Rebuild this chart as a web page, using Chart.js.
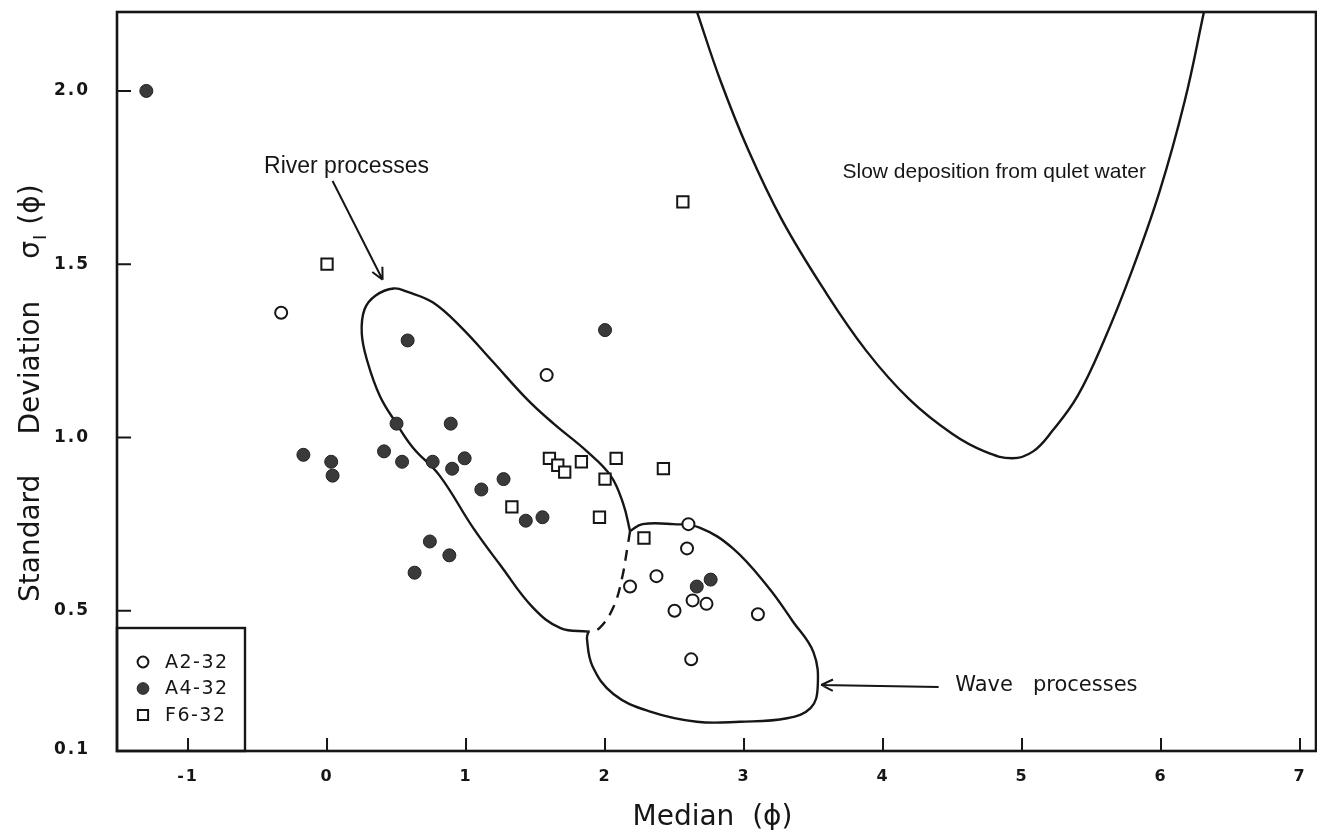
<!DOCTYPE html>
<html>
<head>
<meta charset="utf-8">
<script src="https://cdn.jsdelivr.net/npm/chart.js@4.4.1/dist/chart.umd.min.js"></script>
<style>
  body { margin: 0; background: #fff; }
  canvas { display: block; }
</style>
</head>
<body>
<canvas id="mychart" width="1317" height="830"></canvas>
<script>
// sample series (median phi, standard deviation phi)
const a2x = [-0.33, 1.58, 2.60, 2.59, 2.37, 2.18, 2.63, 2.73, 2.50, 3.10, 2.62];
const a2y = [1.36, 1.18, 0.75, 0.68, 0.60, 0.57, 0.53, 0.52, 0.50, 0.49, 0.36];

const a4x = [-1.30, 0.58, 2.00, 0.50, 0.89, -0.17, 0.03, 0.04, 0.41, 0.54, 0.76,
             0.90, 0.99, 1.11, 1.27, 1.43, 1.55, 0.74, 0.88, 0.63, 2.66, 2.76];
const a4y = [2.00, 1.28, 1.31, 1.04, 1.04, 0.95, 0.93, 0.89, 0.96, 0.93, 0.93,
             0.91, 0.94, 0.85, 0.88, 0.76, 0.77, 0.70, 0.66, 0.61, 0.57, 0.59];

const f6x = [0.00, 2.56, 1.60, 1.66, 1.71, 1.83, 2.08, 2.00, 2.42, 1.33, 1.96, 2.28];
const f6y = [1.50, 1.68, 0.94, 0.92, 0.90, 0.93, 0.94, 0.88, 0.91, 0.80, 0.77, 0.71];

// field boundaries
const riverX = [1.88, 1.68, 1.48, 1.25, 1.05, 0.81, 0.62, 0.50, 0.38, 0.29, 0.25, 0.27, 0.35, 0.48,
                0.58, 0.76, 0.96, 1.19, 1.44, 1.63, 1.87, 2.04, 2.13, 2.18];
const riverY = [0.44, 0.45, 0.51, 0.63, 0.74, 0.89, 0.97, 1.04, 1.12, 1.22, 1.30, 1.37, 1.41, 1.43,
                1.42, 1.39, 1.32, 1.22, 1.11, 1.04, 0.96, 0.89, 0.81, 0.73];

const splitX = [2.18, 2.16, 2.12, 2.06, 1.96, 1.88];
const splitY = [0.73, 0.68, 0.59, 0.51, 0.45, 0.44];

const waveX = [2.18, 2.27, 2.49, 2.68, 2.92, 3.17, 3.35, 3.50, 3.53, 3.48, 3.31, 2.97, 2.66,
               2.32, 2.06, 1.91, 1.87, 1.88];
const waveY = [0.73, 0.75, 0.75, 0.74, 0.68, 0.57, 0.47, 0.38, 0.28, 0.22, 0.19, 0.18, 0.18,
               0.21, 0.26, 0.34, 0.42, 0.44];

const quietX = [2.66, 2.83, 3.03, 3.27, 3.57, 3.88, 4.19, 4.50, 4.73, 4.93,
                5.08, 5.22, 5.40, 5.59, 5.79, 5.99, 6.17, 6.31];
const quietY = [2.23, 2.03, 1.83, 1.63, 1.43, 1.25, 1.11, 1.01, 0.96, 0.94,
                0.96, 1.02, 1.12, 1.28, 1.48, 1.71, 1.97, 2.23];

const seriesNames = ['A2-32', 'A4-32', 'F6-32'];
const xTicks = [-1, 0, 1, 2, 3, 4, 5, 6, 7];
const yTicks = [0.1, 0.5, 1.0, 1.5, 2.0];

const ink = '#161616';
const zip = (xs, ys) => xs.map((v, i) => ({ x: v, y: ys[i] }));

const outline = (xs, ys, dash) => ({
    data: zip(xs, ys),
    showLine: true,
    tension: 0.4,
    borderColor: ink,
    borderWidth: 2.4,
    borderDash: dash || [],
    pointRadius: 0,
    fill: false
});

// text and arrows laid over the plot
const notes = [
    { text: 'River processes', x: 0.14, y: 1.763, align: 'center', font: '23px "Liberation Sans", sans-serif' },
    { text: 'Slow deposition from qulet water', x: 4.80, y: 1.749, align: 'center', font: '21px "Liberation Sans", sans-serif' },
    { text: 'Wave   processes', x: 4.52, y: 0.269, align: 'left', font: '21px "DejaVu Sans", sans-serif' }
];
const arrows = [
    { from: [0.04, 1.74], to: [0.40, 1.455] },
    { from: [4.40, 0.28], to: [3.555, 0.286] }
];

const decor = {
    id: 'decor',
    beforeDraw(chart) {
        chart.ctx.letterSpacing = '2px';
    },
    afterDraw(chart) {
        const { ctx, chartArea: a, scales: { x, y } } = chart;
        ctx.save();
        ctx.letterSpacing = '0px';
        ctx.strokeStyle = ink;
        ctx.fillStyle = ink;
        ctx.lineCap = 'butt';

        // frame
        ctx.lineWidth = 2.6;
        ctx.strokeRect(a.left, a.top, a.right - a.left, a.bottom - a.top);

        // tick marks pointing into the plot
        ctx.lineWidth = 2;
        ctx.beginPath();
        xTicks.forEach(t => {
            const px = x.getPixelForValue(t);
            ctx.moveTo(px, a.bottom);
            ctx.lineTo(px, a.bottom - 13);
        });
        yTicks.slice(1).forEach(t => {
            const py = y.getPixelForValue(t);
            ctx.moveTo(a.left, py);
            ctx.lineTo(a.left + 14, py);
        });
        ctx.stroke();

        // arrows
        arrows.forEach(ar => {
            const x1 = x.getPixelForValue(ar.from[0]), y1 = y.getPixelForValue(ar.from[1]);
            const x2 = x.getPixelForValue(ar.to[0]), y2 = y.getPixelForValue(ar.to[1]);
            const ang = Math.atan2(y2 - y1, x2 - x1);
            ctx.beginPath();
            ctx.moveTo(x1, y1);
            ctx.lineTo(x2, y2);
            [-0.45, 0.45].forEach(d => {
                ctx.moveTo(x2, y2);
                ctx.lineTo(x2 - 13 * Math.cos(ang + d), y2 - 13 * Math.sin(ang + d));
            });
            ctx.stroke();
        });

        // notes
        ctx.textBaseline = 'alphabetic';
        notes.forEach(n => {
            ctx.font = n.font;
            ctx.textAlign = n.align;
            ctx.fillText(n.text, x.getPixelForValue(n.x), y.getPixelForValue(n.y));
        });

        // legend box in the lower left corner
        ctx.lineWidth = 2.4;
        ctx.strokeRect(a.left, a.bottom - 123, 128, 123);
        ctx.font = '19px "DejaVu Sans", sans-serif';
        ctx.letterSpacing = '1.5px';
        ctx.textAlign = 'left';
        ctx.textBaseline = 'middle';
        seriesNames.forEach((name, i) => {
            const ds = chart.data.datasets[i];
            const ly = a.bottom - 89 + i * 26.5;
            ctx.save();
            ctx.fillStyle = ds.backgroundColor;
            ctx.strokeStyle = ds.borderColor;
            ctx.lineWidth = ds.borderWidth;
            Chart.helpers.drawPoint(ctx, {
                pointStyle: ds.pointStyle,
                radius: ds.pointRadius * 0.9,
                rotation: 0,
                borderWidth: ds.borderWidth
            }, a.left + 26, ly);
            ctx.restore();
            ctx.fillText(name, a.left + 48, ly + 1);
        });

        // axis titles
        ctx.letterSpacing = '0px';
        ctx.font = '28px "DejaVu Sans", sans-serif';
        ctx.textAlign = 'center';
        ctx.textBaseline = 'alphabetic';
        ctx.fillText('Median  (ϕ)', (a.left + a.right) / 2 - 4, 825);

        ctx.translate(39, 0);
        ctx.rotate(-Math.PI / 2);
        ctx.textAlign = 'left';
        let u = -602;
        const word = (t, gap) => {
            ctx.fillText(t, u, 0);
            u += ctx.measureText(t).width + gap;
        };
        word('Standard', 40);
        word('Deviation', 42);
        word('σ', 1);
        ctx.font = '18px "DejaVu Sans", sans-serif';
        ctx.fillText('I', u, 7);
        u += ctx.measureText('I').width + 10;
        ctx.font = '28px "DejaVu Sans", sans-serif';
        word('(ϕ)', 0);
        ctx.restore();
    }
};

const ctx = document.getElementById('mychart').getContext('2d');
let myChart = new Chart(ctx, {
    type: 'scatter',
    data: {
        datasets: [
            {
                label: seriesNames[0],
                data: zip(a2x, a2y),
                pointStyle: 'circle',
                pointRadius: 6,
                borderWidth: 2,
                borderColor: ink,
                backgroundColor: '#ffffff'
            },
            {
                label: seriesNames[1],
                data: zip(a4x, a4y),
                pointStyle: 'circle',
                pointRadius: 6.5,
                borderWidth: 1,
                borderColor: '#222222',
                backgroundColor: '#3a3a3a'
            },
            {
                label: seriesNames[2],
                data: zip(f6x, f6y),
                pointStyle: 'rect',
                pointRadius: 8,
                borderWidth: 2,
                borderColor: ink,
                backgroundColor: '#ffffff'
            },
            outline(riverX, riverY),
            outline(splitX, splitY, [11, 8]),
            outline(waveX, waveY),
            outline(quietX, quietY)
        ]
    },
    options: {
        responsive: false,
        animation: false,
        events: [],
        layout: { autoPadding: false, padding: { top: 12, right: 1, left: 0, bottom: 0 } },
        plugins: {
            legend: { display: false },
            tooltip: { enabled: false }
        },
        scales: {
            x: {
                type: 'linear',
                min: -1.511,
                max: 7.115,
                afterBuildTicks: s => { s.ticks = xTicks.map(v => ({ value: v })); },
                afterFit: s => {
                    s.height = 79;
                    s.paddingLeft = 0;
                    s.paddingRight = 0;
                },
                grid: { display: false, drawTicks: false },
                border: { display: false },
                ticks: {
                    color: ink,
                    padding: 16,
                    font: { family: 'DejaVu Sans', size: 16, weight: 'bold' },
                    callback: v => String(v)
                }
            },
            y: {
                type: 'linear',
                min: 0.0955,
                max: 2.2277,
                afterBuildTicks: s => { s.ticks = yTicks.map(v => ({ value: v })); },
                afterFit: s => {
                    s.width = 117;
                    s.paddingTop = 0;
                    s.paddingBottom = 0;
                },
                grid: { display: false, drawTicks: false },
                border: { display: false },
                ticks: {
                    color: ink,
                    padding: 27,
                    font: { family: 'DejaVu Sans', size: 17, weight: 'bold' },
                    callback: v => v.toFixed(1)
                }
            }
        }
    },
    plugins: [decor]
});
</script>
</body>
</html>
